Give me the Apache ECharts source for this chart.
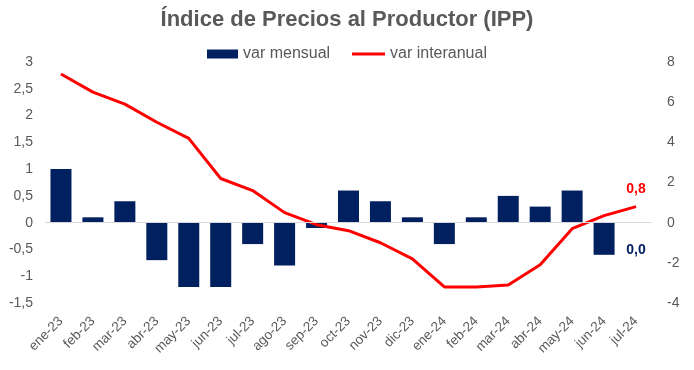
<!DOCTYPE html>
<html>
<head>
<meta charset="utf-8">
<script src="https://cdn.jsdelivr.net/npm/echarts@6/dist/echarts.min.js"></script>
<style>html,body{margin:0;padding:0;background:#fff}#c{width:694px;height:370px}</style>
</head>
<body>
<div id="c"></div>
<script>
var categories = ['ene-23','feb-23','mar-23','abr-23','may-23','jun-23','jul-23','ago-23','sep-23','oct-23','nov-23','dic-23','ene-24','feb-24','mar-24','abr-24','may-24','jun-24','jul-24'];
var varMensual = [1.0, 0.1, 0.4, -0.7, -1.2, -1.2, -0.4, -0.8, -0.1, 0.6, 0.4, 0.1, -0.4, 0.1, 0.5, 0.3, 0.6, -0.6, 0.0];
var varInteranual = [7.4, 6.5, 5.9, 5.0, 4.2, 2.2, 1.6, 0.5, -0.1, -0.4, -1.0, -1.8, -3.2, -3.2, -3.1, -2.1, -0.3, 0.35, 0.8];
var leftTicks = {min: -1.5, max: 3, interval: 0.5};
var rightTicks = {min: -4, max: 8, interval: 2};

function fmt(v){ return String(v).replace('.', ','); }
function fmt1(v){ return Number(v).toFixed(1).replace('.', ','); }

var FONT = 'Liberation Sans, Arial, sans-serif';
var lastIdx = categories.length - 1;
var barData = varMensual.map(function(v, i){
  if (i === lastIdx) return {value: v, label: {show: true}};
  return v;
});

var chart = echarts.init(document.getElementById('c'), null, {renderer: 'canvas'});
chart.setOption({
  animation: false,
  backgroundColor: '#ffffff',
  textStyle: {fontFamily: FONT},
  title: {
    text: 'Índice de Precios al Productor (IPP)',
    left: 'center', top: 4,
    textStyle: {fontSize: 22, fontWeight: 'bold', color: '#595959', fontFamily: FONT}
  },
  legend: [
    {left: 207, top: 46, padding: 0, itemWidth: 31, itemHeight: 9,
     textStyle: {fontSize: 16, color: '#595959'},
     data: [{name: 'var mensual', icon: 'rect'}]},
    {left: 352, top: 46, padding: 0, itemWidth: 33, itemHeight: 3,
     textStyle: {fontSize: 16, color: '#595959'},
     data: [{name: 'var interanual', icon: 'rect', itemStyle: {color: '#ff0000'}}]}
  ],
  grid: {left: 45, right: 42, top: 62, bottom: 67},
  xAxis: {
    type: 'category', data: categories,
    axisLine: {show: false}, axisTick: {show: false},
    axisLabel: {rotate: 45, fontSize: 13.5, color: '#595959', margin: 16, interval: 0}
  },
  yAxis: [
    {type: 'value', min: leftTicks.min, max: leftTicks.max, interval: leftTicks.interval,
     splitLine: {show: false}, axisLine: {show: false}, axisTick: {show: false},
     axisLabel: {fontSize: 14, color: '#595959', margin: 12, formatter: fmt}},
    {type: 'value', min: rightTicks.min, max: rightTicks.max, interval: rightTicks.interval,
     splitLine: {show: false}, axisLine: {show: false}, axisTick: {show: false},
     axisLabel: {fontSize: 14, color: '#595959', margin: 15, formatter: fmt}}
  ],
  series: [
    {name: 'var mensual', type: 'bar', yAxisIndex: 0, data: barData, barWidth: 21,
     itemStyle: {color: '#002060'},
     label: {show: false, position: 'bottom', distance: 20, fontSize: 14, fontWeight: 'bold', color: '#002060',
             formatter: function(p){ return fmt1(p.value); }},
     markLine: {silent: true, symbol: 'none', label: {show: false},
                lineStyle: {color: '#d9d9d9', width: 1, type: 'solid'},
                data: [{yAxis: 0}]}},
    {name: 'var interanual', type: 'line', yAxisIndex: 1, data: varInteranual,
     symbol: 'none', smooth: false,
     lineStyle: {color: '#ff0000', width: 3}, itemStyle: {color: '#ff0000'},
     markPoint: {
       silent: true, symbol: 'circle', symbolSize: 1,
       itemStyle: {color: 'rgba(0,0,0,0)'},
       label: {show: true, position: 'top', distance: 10, fontSize: 14, fontWeight: 'bold', color: '#ff0000',
               formatter: function(p){ return fmt1(p.value); }},
       data: [{coord: [categories[lastIdx], varInteranual[lastIdx]], value: varInteranual[lastIdx]}]
     }}
  ]
});
</script>
</body>
</html>
